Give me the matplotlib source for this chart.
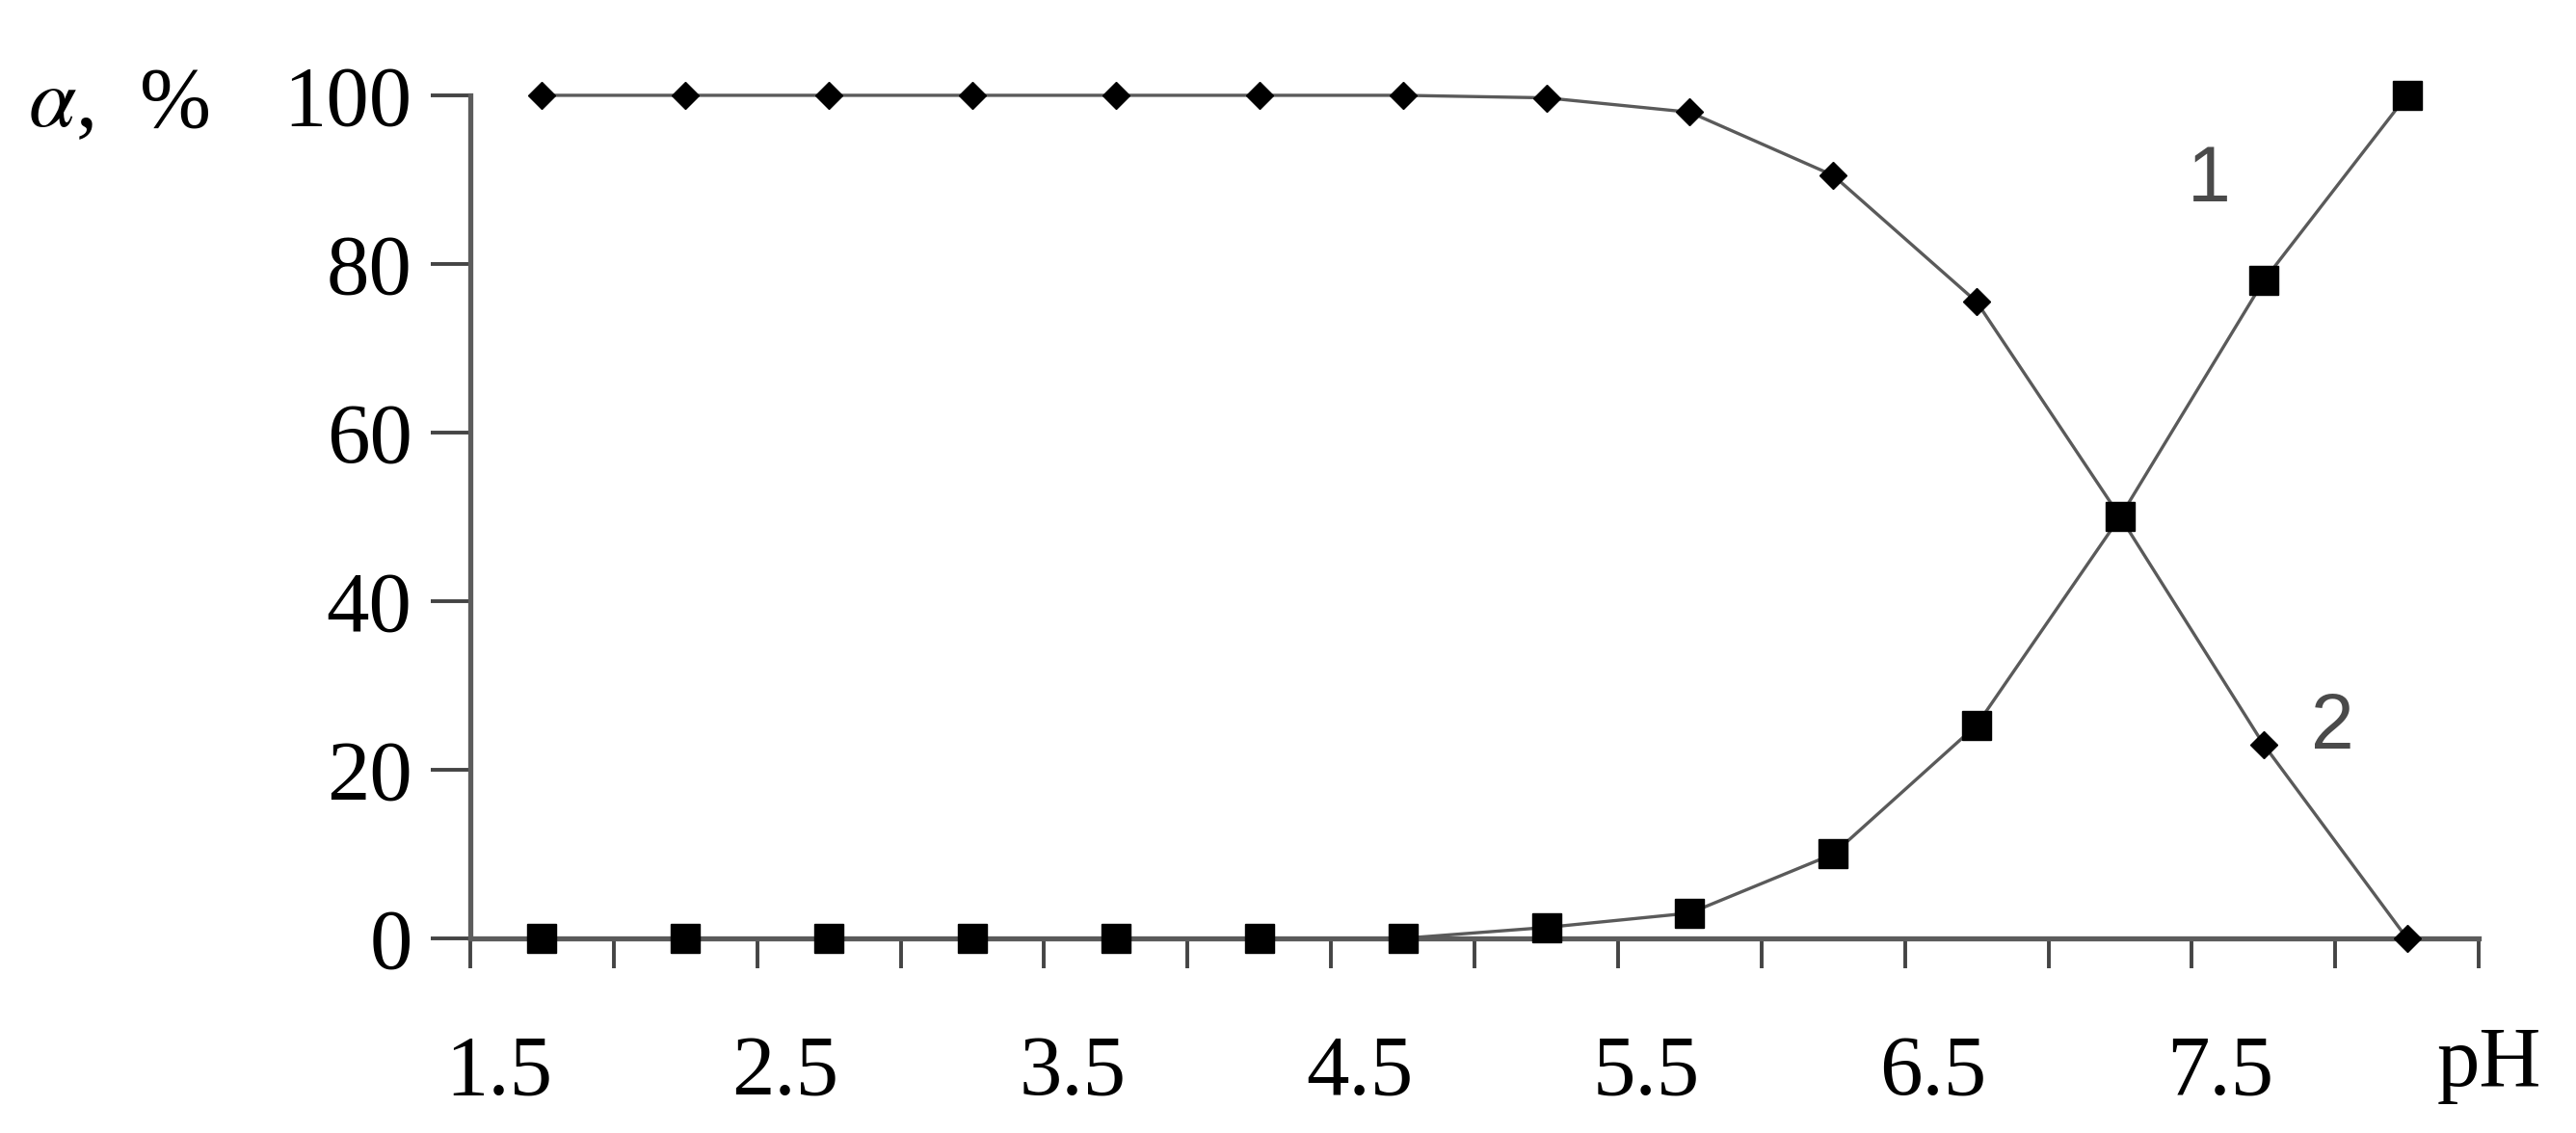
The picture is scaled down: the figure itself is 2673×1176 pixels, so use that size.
import numpy as np
import matplotlib.pyplot as plt
import matplotlib.transforms as mtransforms

# pH categories and fractions (alpha, %)
ph = [1.5, 2.0, 2.5, 3.0, 3.5, 4.0, 4.5, 5.0, 5.5, 6.0, 6.5, 7.0, 7.5, 8.0]
curve1 = [100, 100, 100, 100, 100, 100, 100, 99.7, 98, 90.5, 75.5, 50, 23, 0]
curve2 = [0, 0, 0, 0, 0, 0, 0, 1.3, 3, 10, 25.3, 50, 78, 100]
xlabels = ['1.5', '2.5', '3.5', '4.5', '5.5', '6.5', '7.5']
yticks = [0, 20, 40, 60, 80, 100]

serif = 'Liberation Serif'
fs = 64

plt.rcParams['mathtext.fontset'] = 'stix'

fig = plt.figure(figsize=(26.73, 11.76), dpi=100)
ax = fig.add_axes([0.18257, 0.17177, 0.7797, 0.7441])

line_col = '#5a5a5a'
ax.plot(ph, curve1, color=line_col, lw=2.4, marker='D', ms=14,
        mfc='black', mec='black', clip_on=False, zorder=3)
ax.plot(ph, curve2, color=line_col, lw=2.4, marker='s', ms=21,
        mfc='black', mec='black', clip_on=False, zorder=3)

ax.set_xlim(1.25, 8.25)
ax.set_ylim(0, 100)

for s in ['top', 'right']:
    ax.spines[s].set_visible(False)
for s in ['left', 'bottom']:
    ax.spines[s].set_color('#5c5c5c')
    ax.spines[s].set_linewidth(3.8)

# boundary ticks between categories (no labels)
ax.set_xticks(np.arange(1.25, 8.26, 0.5))
ax.set_xticklabels([])
ax.tick_params(axis='x', which='major', direction='out', length=22,
               width=2.8, color='#444444')
# labels under every other category
ax.set_xticks([float(v) for v in xlabels], labels=xlabels, minor=True)
ax.tick_params(axis='x', which='minor', length=0, pad=72)
offset = mtransforms.ScaledTranslation(-0.45, 0, fig.dpi_scale_trans)
for lab in ax.get_xticklabels(minor=True):
    lab.set_fontfamily(serif)
    lab.set_fontsize(fs)
    lab.set_transform(lab.get_transform() + offset)

ax.set_yticks(yticks)
ax.set_yticklabels([str(v) for v in yticks], fontfamily=serif, fontsize=fs)
ax.tick_params(axis='y', direction='out', length=29.5, width=2.8,
               color='#444444', pad=14)

fig.text(0.0108, 0.915, r'$\alpha$,  %', fontfamily=serif, fontsize=fs,
         ha='left', va='center_baseline')
fig.text(0.9663, 0.0417, 'pH', fontfamily=serif, fontsize=fs,
         ha='center', va='baseline')

ax.text(7.31, 89.8, '1', fontfamily='Liberation Sans', fontsize=58,
        color='#4a4a4a', ha='center', va='center')
ax.text(7.74, 24.9, '2', fontfamily='Liberation Sans', fontsize=58,
        color='#4a4a4a', ha='center', va='center')

fig.savefig('out.png', dpi=100)
